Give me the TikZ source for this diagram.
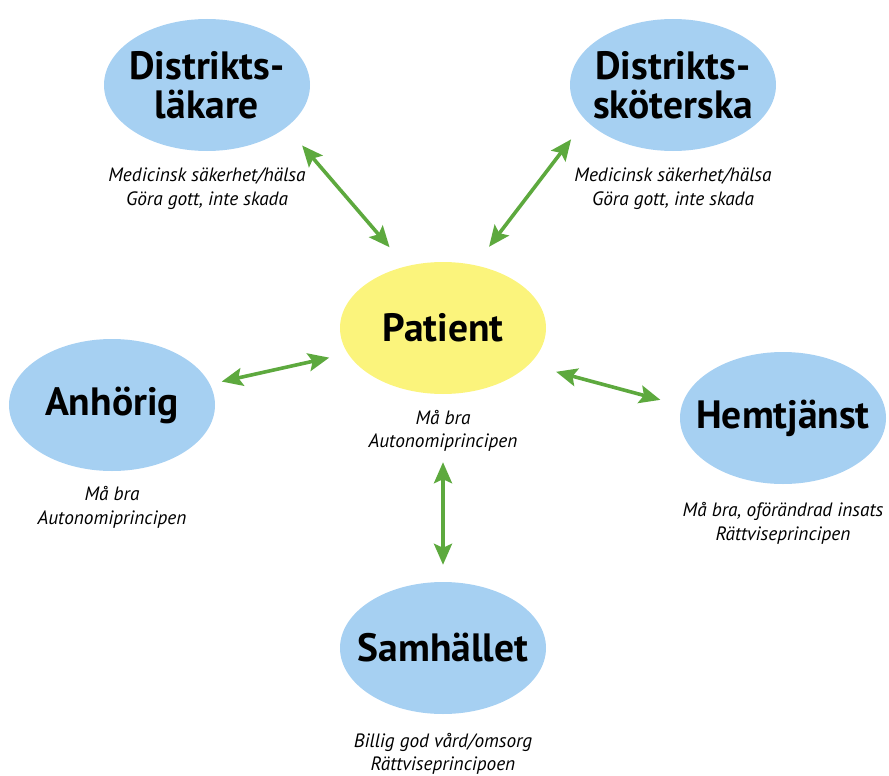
\documentclass[tikz,border=0pt]{standalone}
\usepackage{fontspec}
\setmainfont{PT Sans}
\usetikzlibrary{shapes.geometric, arrows.meta}
\definecolor{bubbleblue}{HTML}{A6D0F2}
\definecolor{bubbleyellow}{HTML}{FBF47C}
\definecolor{arrowgreen}{HTML}{5DA93E}

\begin{document}
\begin{tikzpicture}[
    x=1pt, y=-1pt,
    bubble/.style={ellipse, fill=#1, minimum width=206pt, minimum height=132pt, inner sep=-15pt, align=center, font=\fontsize{39.5}{39}\selectfont\bfseries},
    bubble/.default=bubbleblue,
    note/.style={align=center, font=\fontsize{19.3}{23.5}\selectfont\itshape},
    arr/.style={{Stealth[length=21pt,width=18pt,inset=4pt]}-{Stealth[length=21pt,width=18pt,inset=4pt]}, line width=3.6pt, draw=arrowgreen},
]
    \useasboundingbox (0,0) rectangle (889,776);

    % bubbles
    \node[bubble=bubbleyellow] (pat) at (443,328) {Patient};
    \node[bubble] (lak) at (207,85) {Distrikts-\\läkare};
    \node[bubble] (skot) at (673,85) {Distrikts-\\sköterska};
    \node[bubble] (anh) at (112,405) {Anhörig};
    \node[bubble] (hemt) at (783,418) {Hemtjänst};
    \node[bubble] (samh) at (443,648) {Samhället};

    % notes
    \node[note] (patn) at (443,431) {Må bra\\Autonomiprincipen};
    \node[note] (lakn) at (207,188.5) {Medicinsk säkerhet/hälsa\\Göra gott, inte skada};
    \node[note] (skotn) at (673,188.5) {Medicinsk säkerhet/hälsa\\Göra gott, inte skada};
    \node[note] (anhn) at (112,507.5) {Må bra\\Autonomiprincipen};
    \node[note] (hemtn) at (783,523.5) {Må bra, oförändrad insats\\Rättviseprincipen};
    \node[note] (samhn) at (443,754) {Billig god vård/omsorg\\Rättviseprincipoen};

    % arrows
    \draw[arr, shorten <=24pt, shorten >=25pt] (lak.-28) -- (pat.121);
    \draw[arr, shorten <=24pt, shorten >=23pt] (skot.202) -- (pat.63);
    \draw[arr, shorten <=12pt, shorten >=19pt] (anh.12) -- (pat.195);
    \draw[arr, shorten <=28pt, shorten >=22pt] (pat.-23) -- (hemt.173);
    \draw[arr, shorten <=68pt, shorten >=17pt] (pat.south) -- (samh.north);
\end{tikzpicture}
\end{document}
